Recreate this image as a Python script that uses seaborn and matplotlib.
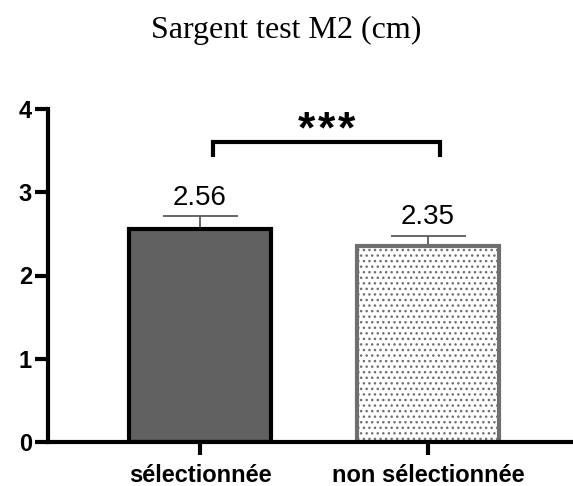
import matplotlib
matplotlib.use("Agg")
import matplotlib.pyplot as plt
import seaborn as sns
import pandas as pd

# Jump height by selection status
categories = ["sélectionnée", "non sélectionnée"]
means = [2.56, 2.35]
sem = [0.15, 0.13]
y_ticks = [0, 1, 2, 3, 4]
title = "Sargent test M2 (cm)"
significance = "***"

sns.set_theme(style="white")
plt.rcParams["font.family"] = ["Liberation Sans", "DejaVu Sans"]
plt.rcParams["hatch.linewidth"] = 1.0
plt.rcParams["text.color"] = "black"

df = pd.DataFrame({"group": categories, "mean": means})

fig = plt.figure(figsize=(5.73, 4.86), dpi=100)
ax = fig.add_axes([48 / 573, 1 - 442 / 486, 1 - 48 / 573, (442 - 109) / 486])

sns.barplot(data=df, x="group", y="mean", order=categories, width=0.62,
            errorbar=None, ax=ax, zorder=2)

styles = [
    dict(facecolor="#616161", edgecolor="black", hatch=None),
    dict(facecolor="white", edgecolor="#6f6f6f", hatch="..."),
]
for patch, st in zip(ax.patches, styles):
    patch.set_facecolor(st["facecolor"])
    patch.set_edgecolor(st["edgecolor"])
    patch.set_linewidth(3.0)
    if st["hatch"]:
        patch.set_hatch(st["hatch"])

# Upper error bars (SEM)
xs = list(range(len(categories)))
ax.errorbar(xs, means, yerr=[[0] * len(sem), sem], fmt="none",
            ecolor="#5a5a5a", elinewidth=1.3, capsize=27, capthick=1.3, zorder=1)

# Mean labels above the error bars
for x, m, e in zip(xs, means, sem):
    ax.annotate(f"{m:.2f}", xy=(x, m + e), xytext=(0, 8), textcoords="offset points",
                ha="center", va="baseline", fontsize=20, color="black")

# Significance bracket
bx0, bx1, by, leg = 0.055, 1.053, 3.60, 3.42
ax.plot([bx0, bx0, bx1, bx1], [leg, by, by, leg], color="black", lw=3.0,
        solid_capstyle="butt", solid_joinstyle="miter", clip_on=False)
star_x = (bx0 + bx1) / 2
for k, ch in zip((-1, 0, 1), significance):
    ax.annotate(ch, xy=(star_x, 3.60), xytext=(k * 14.4, 0), textcoords="offset points",
                ha="center", va="baseline", fontsize=32, fontweight="bold",
                color="black")

ax.set_xlim(-0.667, 1.636)
ax.set_ylim(0, 4)
ax.set_yticks(y_ticks)
ax.set_xlabel("")
ax.set_ylabel("")

for side in ["top", "right"]:
    ax.spines[side].set_visible(False)
for side in ["left", "bottom"]:
    ax.spines[side].set_linewidth(3.0)
    ax.spines[side].set_color("black")
    ax.spines[side].set_zorder(3)

ax.tick_params(axis="both", which="both", direction="out", length=9.5, width=3.0,
               color="black", labelsize=17, pad=2, bottom=True, left=True,
               labelcolor="black")
ax.tick_params(axis="x", pad=6)
for lab in ax.get_xticklabels() + ax.get_yticklabels():
    lab.set_fontweight("bold")

fig.text(0.5, 1 - 30 / 486, title, ha="center", va="center", fontsize=23,
         color="black", family=["Liberation Serif", "DejaVu Serif"])

fig.savefig("out.png", dpi=100)
